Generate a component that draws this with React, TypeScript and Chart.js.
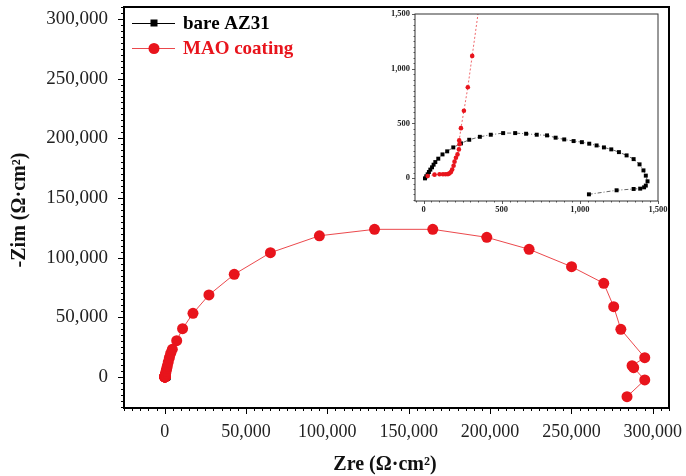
import React, { useEffect, useRef } from "react";
import { Chart, registerables } from "chart.js";

Chart.register(...registerables);

// ---- data ----
const seriesNames = ["bare AZ31", "MAO coating"];

const bareZre = [
  9, 17, 26, 34, 43, 54, 64, 75, 94, 121, 151, 190, 239, 292, 360, 430, 509, 586, 656, 724,
  790, 845, 900, 960, 1013, 1060, 1107, 1154, 1201, 1250, 1299, 1344, 1382, 1407, 1422, 1433,
  1422, 1411, 1386, 1344, 1235, 1058,
];
const bareZim = [
  -3, 16, 34, 55, 77, 98, 122, 146, 177, 216, 244, 280, 317, 350, 377, 396, 411, 411, 405, 396,
  390, 369, 353, 338, 328, 314, 298, 280, 262, 237, 207, 173, 125, 70, 22, -30,
  -69, -85, -97, -100, -112, -149,
];

const maoZre = [
  26, 70, 102, 124, 141, 156, 166, 175, 183, 192, 198, 207, 217, 226, 230, 228, 239, 258, 283, 311,
  350, 420, 600, 900, 1250, 1650, 2200, 2900, 3700, 4700, 7400, 11000, 17400, 27200, 42760,
  65000, 95100, 129000, 164800, 198000, 224000, 250100, 269900, 276000, 280400, 295100,
  287300, 288300, 295100, 284200,
];
const maoZim = [
  18, 31, 34, 34, 34, 36, 43, 55, 77, 113, 150, 186, 216, 262, 310, 344, 456, 615, 830, 1117,
  1520, 2000, 3200, 5000, 7000, 9300, 12500, 16200, 19800, 23200, 30400, 40500, 53300, 68700, 86000,
  104100, 118300, 123700, 123700, 117000, 107000, 92400, 78500, 58900, 39900, 16200,
  9500, 7800, -2500, -16500,
];

const mainXTicks = [0, 50000, 100000, 150000, 200000, 250000, 300000];
const mainYTicks = [0, 50000, 100000, 150000, 200000, 250000, 300000];
const insetXTicks = [0, 500, 1000, 1500];
const insetYTicks = [0, 500, 1000, 1500];

const RED = "#e8141c";
const RED_LINE = "rgba(232,40,45,0.85)";
const SERIF = "'Liberation Serif', 'Times New Roman', serif";

const pts = (xs: number[], ys: number[]) => xs.map((x, i) => ({ x, y: ys[i] }));
const fmt = (v: number) => Number(v).toLocaleString("en-US");

function frameTicksPlugin(o: {
  minor: number;
  major: number;
  majorLen: number;
  minorLen: number;
  tickWidth: number;
  frameWidth: number;
  color: string;
}) {
  return {
    id: "frameTicks",
    afterDraw(chart: any) {
      const { ctx, chartArea: a, scales } = chart;
      const xs = scales.x;
      const ys = scales.y;
      ctx.save();
      ctx.strokeStyle = o.color;
      ctx.lineWidth = o.tickWidth;
      ctx.beginPath();
      for (let v = Math.ceil(xs.min / o.minor) * o.minor; v <= xs.max + 1e-9; v += o.minor) {
        const major = Math.abs(v % o.major) < 1e-6;
        const px = Math.round(xs.getPixelForValue(v)) + 0.5;
        ctx.moveTo(px, a.bottom);
        ctx.lineTo(px, a.bottom + (major ? o.majorLen : o.minorLen));
      }
      for (let v = Math.ceil(ys.min / o.minor) * o.minor; v <= ys.max + 1e-9; v += o.minor) {
        const major = Math.abs(v % o.major) < 1e-6;
        const py = Math.round(ys.getPixelForValue(v)) + 0.5;
        ctx.moveTo(a.left, py);
        ctx.lineTo(a.left - (major ? o.majorLen : o.minorLen), py);
      }
      ctx.stroke();
      ctx.lineWidth = o.frameWidth;
      ctx.strokeRect(a.left, a.top, a.right - a.left, a.bottom - a.top);
      ctx.restore();
    },
  };
}

const mainDecor = {
  id: "mainDecor",
  afterDraw(chart: any) {
    const { ctx } = chart;
    ctx.save();
    // legend
    const items = [
      { name: seriesNames[0], color: "#000", line: "#000", shape: "rect", y: 23 },
      { name: seriesNames[1], color: RED, line: RED_LINE, shape: "circle", y: 48 },
    ];
    for (const it of items) {
      ctx.strokeStyle = it.line;
      ctx.lineWidth = 1;
      ctx.beginPath();
      ctx.moveTo(132, it.y + 0.5);
      ctx.lineTo(175, it.y + 0.5);
      ctx.stroke();
      ctx.fillStyle = it.color;
      if (it.shape === "rect") {
        ctx.fillRect(150.5, it.y - 3.5, 7, 7);
      } else {
        ctx.beginPath();
        ctx.arc(154, it.y + 0.5, 5.5, 0, Math.PI * 2);
        ctx.fill();
      }
      ctx.font = `bold 19px ${SERIF}`;
      ctx.textBaseline = "middle";
      ctx.textAlign = "left";
      ctx.fillText(it.name, 183, it.y + 1);
    }
    // axis titles
    ctx.fillStyle = "#111";
    ctx.font = `bold 20px ${SERIF}`;
    ctx.textAlign = "center";
    ctx.textBaseline = "middle";
    ctx.fillText("Zre (Ω·cm²)", 385, 465);
    ctx.translate(20, 210);
    ctx.rotate(-Math.PI / 2);
    ctx.fillText("-Zim (Ω·cm²)", 0, 0);
    ctx.restore();
  },
};

export default function App() {
  const mainRef = useRef<HTMLCanvasElement>(null);
  const insetRef = useRef<HTMLCanvasElement>(null);

  useEffect(() => {
    const bare = pts(bareZre, bareZim);
    const mao = pts(maoZre, maoZim);

    const main = new Chart(mainRef.current!, {
      type: "scatter",
      data: {
        datasets: [
          {
            label: seriesNames[0],
            data: bare,
            showLine: true,
            borderColor: "#000",
            borderWidth: 1,
            pointStyle: "rect",
            pointRadius: 4.5,
            pointBackgroundColor: "#000",
            pointBorderWidth: 0,
            order: 2,
          },
          {
            label: seriesNames[1],
            data: mao,
            showLine: true,
            borderColor: RED_LINE,
            borderWidth: 1,
            pointStyle: "circle",
            pointRadius: 5.5,
            pointBackgroundColor: RED,
            pointBorderColor: RED,
            pointBorderWidth: 0,
            order: 1,
          },
        ],
      },
      options: {
        responsive: false,
        animation: false,
        events: [],
        layout: { padding: { top: 7, right: 17, left: 0, bottom: 0 } },
        plugins: { legend: { display: false }, tooltip: { enabled: false } },
        scales: {
          x: {
            type: "linear",
            min: -25000,
            max: 310000,
            afterBuildTicks: (s: any) => {
              s.ticks = mainXTicks.map((v) => ({ value: v }));
            },
            afterFit: (s: any) => {
              s.height = 68;
              s.paddingLeft = 0;
              s.paddingRight = 0;
            },
            grid: { drawOnChartArea: false, drawTicks: true, tickLength: 6, tickColor: "transparent" },
            border: { display: false },
            ticks: {
              autoSkip: false,
              maxRotation: 0,
              padding: 7,
              color: "#222",
              font: { family: SERIF, size: 18 },
              callback: (v: any) => fmt(v),
            },
          },
          y: {
            type: "linear",
            min: -26000,
            max: 310000,
            afterBuildTicks: (s: any) => {
              s.ticks = mainYTicks.map((v) => ({ value: v }));
            },
            afterFit: (s: any) => {
              s.width = 124;
              s.paddingTop = 0;
              s.paddingBottom = 0;
            },
            grid: { drawOnChartArea: false, drawTicks: true, tickLength: 8, tickColor: "transparent" },
            border: { display: false },
            ticks: {
              autoSkip: false,
              padding: 8,
              color: "#222",
              font: { family: SERIF, size: 19 },
              callback: (v: any) => fmt(v),
            },
          },
        },
      },
      plugins: [
        frameTicksPlugin({ minor: 5000, major: 50000, majorLen: 6, minorLen: 3, tickWidth: 1, frameWidth: 2, color: "#000" }),
        mainDecor,
      ],
    } as any);

    const inset = new Chart(insetRef.current!, {
      type: "scatter",
      data: {
        datasets: [
          {
            label: seriesNames[0],
            data: bare,
            showLine: true,
            borderColor: "#666",
            borderWidth: 1,
            borderDash: [4, 2, 1, 2],
            pointStyle: "rect",
            pointRadius: 2.8,
            pointBackgroundColor: "#000",
            pointBorderWidth: 0,
            order: 2,
          },
          {
            label: seriesNames[1],
            data: mao,
            showLine: true,
            borderColor: "rgba(232,40,45,0.7)",
            borderWidth: 1,
            borderDash: [2, 2],
            pointStyle: "circle",
            pointRadius: 2.3,
            pointBackgroundColor: RED,
            pointBorderWidth: 0,
            order: 1,
          },
        ],
      },
      options: {
        responsive: false,
        animation: false,
        events: [],
        layout: { padding: { top: 14, right: 12, left: 0, bottom: 0 } },
        plugins: { legend: { display: false }, tooltip: { enabled: false } },
        scales: {
          x: {
            type: "linear",
            min: -55,
            max: 1500,
            afterBuildTicks: (s: any) => {
              s.ticks = insetXTicks.map((v) => ({ value: v }));
            },
            afterFit: (s: any) => {
              s.height = 17;
              s.paddingLeft = 0;
              s.paddingRight = 0;
            },
            grid: { drawOnChartArea: false, drawTicks: true, tickLength: 3, tickColor: "transparent" },
            border: { display: false },
            ticks: {
              autoSkip: false,
              maxRotation: 0,
              padding: 1,
              color: "#222",
              font: { family: SERIF, size: 8.5, weight: "bold" },
              callback: (v: any) => fmt(v),
            },
          },
          y: {
            type: "linear",
            min: -210,
            max: 1500,
            afterBuildTicks: (s: any) => {
              s.ticks = insetYTicks.map((v) => ({ value: v }));
            },
            afterFit: (s: any) => {
              s.width = 50;
              s.paddingTop = 0;
              s.paddingBottom = 0;
            },
            grid: { drawOnChartArea: false, drawTicks: true, tickLength: 3, tickColor: "transparent" },
            border: { display: false },
            ticks: {
              autoSkip: false,
              padding: 2,
              color: "#222",
              font: { family: SERIF, size: 8.5, weight: "bold" },
              callback: (v: any) => fmt(v),
            },
          },
        },
      },
      plugins: [
        frameTicksPlugin({ minor: 50, major: 500, majorLen: 3, minorLen: 1.5, tickWidth: 0.8, frameWidth: 1, color: "#333" }),
      ],
    } as any);

    return () => {
      main.destroy();
      inset.destroy();
    };
  }, []);

  return (
    <div style={{ position: "fixed", left: 0, top: 0, width: 686, height: 476, background: "#fff" }}>
      <canvas ref={mainRef} width={686} height={476} style={{ position: "absolute", left: 0, top: 0 }} />
      <canvas ref={insetRef} width={305} height={218} style={{ position: "absolute", left: 365, top: 0 }} />
    </div>
  );
}
